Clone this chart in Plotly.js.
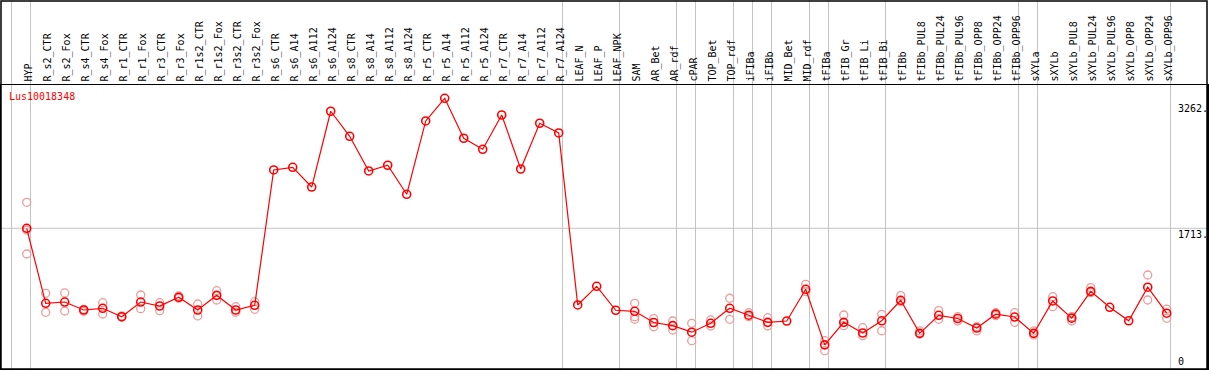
<!DOCTYPE html>
<html>
<head>
<meta charset="utf-8">
<script src="https://cdn.plot.ly/plotly-3.0.1.min.js"></script>
<style>html,body{margin:0;padding:0;background:#fff;}#chart{width:1209px;height:370px;}</style>
</head>
<body>
<div id="chart"></div>
<script>
var geneName = "Lus10018348";
var categories = ["HYP","R_s2_CTR","R_s2_Fox","R_s4_CTR","R_s4_Fox","R_r1_CTR","R_r1_Fox","R_r3_CTR","R_r3_Fox","R_r1s2_CTR","R_r1s2_Fox","R_r3s2_CTR","R_r3s2_Fox","R_s6_CTR","R_s6_A14","R_s6_A112","R_s6_A124","R_s8_CTR","R_s8_A14","R_s8_A112","R_s8_A124","R_r5_CTR","R_r5_A14","R_r5_A112","R_r5_A124","R_r7_CTR","R_r7_A14","R_r7_A112","R_r7_A124","LEAF_N","LEAF_P","LEAF_NPK","SAM","AR_Bet","AR_rdf","cPAR","TOP_Bet","TOP_rdf","iFIBa","iFIBb","MID_Bet","MID_rdf","tFIBa","tFIB_Gr","tFIB_Li","tFIB_Bi","tFIBb","tFIBb_PUL8","tFIBb_PUL24","tFIBb_PUL96","tFIBb_OPP8","tFIBb_OPP24","tFIBb_OPP96","sXYLa","sXYLb","sXYLb_PUL8","sXYLb_PUL24","sXYLb_PUL96","sXYLb_OPP8","sXYLb_OPP24","sXYLb_OPP96"];
var meanValues = [1713,793,809,711,732,629,809,760,867,711,891,711,769,2428,2461,2219,3148,2841,2416,2486,2130,3029,3307,2817,2682,3102,2440,3001,2882,773,1002,708,695,558,519,439,548,732,647,560,576,965,284,560,429,579,830,425,646,607,490,660,625,425,822,611,940,744,579,991,672];
var rep1 = [2032,916,920,720,801,638,895,801,883,785,948,752,813,null,null,null,null,null,null,null,null,null,null,null,null,null,null,null,null,null,null,null,793,605,576,548,589,855,678,617,null,1026,335,650,494,658,887,454,703,629,506,678,678,454,874,629,985,null,null,1140,723];
var rep2 = [1398,683,699,695,662,622,727,703,855,638,834,683,720,null,null,null,null,null,null,null,null,null,null,null,null,null,null,null,null,null,null,null,597,506,466,335,515,597,629,515,null,936,212,519,396,457,813,417,597,576,454,641,560,405,752,576,923,null,null,834,609];
var rep3 = [1692,null,null,null,null,null,null,null,null,null,null,null,null,null,null,null,null,null,null,null,null,null,null,null,null,null,null,null,null,null,null,null,629,null,null,null,null,null,null,null,null,null,null,null,null,null,null,null,null,null,null,null,null,null,null,null,null,null,null,null,null];
var groupEnds = [-1,0,28,31,34,35,37,38,39,41,42,45,52,53,60];
var yTickVals = [0,1713,3262];
var yTickText = ["0","1713.","3262."];

var xIdx = categories.map(function(c,i){return i;});
var mono = "DejaVu Sans Mono, monospace";
var repColor = "#ef9a9a";

function repTrace(vals){
  return {x:xIdx, y:vals, type:"scatter", mode:"markers", hoverinfo:"skip", showlegend:false,
    marker:{symbol:"circle-open", size:8, color:repColor, line:{width:1.3, color:repColor}}};
}
var traces = [repTrace(rep1), repTrace(rep2), repTrace(rep3),
  {x:xIdx, y:meanValues, type:"scatter", mode:"lines+markers", showlegend:false,
   line:{color:"#ff0000", width:1.2},
   marker:{symbol:"circle-open", size:8, color:"#ff0000", line:{width:1.6, color:"#ff0000"}}}];

var shapes = groupEnds.map(function(g){
  return {type:"line", xref:"x", yref:"paper", x0:g+0.2, x1:g+0.2, y0:0, y1:1.31, layer:"below",
    line:{color:"#c4c4c4", width:1}};
});
shapes.push({type:"line", xref:"paper", yref:"y", x0:0, x1:1, y0:yTickVals[1], y1:yTickVals[1], layer:"below",
  line:{color:"#c4c4c4", width:1}});
shapes.push({type:"rect", xref:"paper", yref:"paper", x0:0, x1:1, y0:0, y1:1.296,
  line:{color:"#000", width:1.5}, fillcolor:"rgba(0,0,0,0)"});

var annotations = yTickVals.map(function(v,i){
  return {xref:"paper", yref:"y", x:0.9755, y:v, xanchor:"left", yanchor: v===0 ? "bottom" : "top",
    text:yTickText[i], showarrow:false, font:{family:mono, size:10, color:"#000"}, borderpad:0};
});

var layout = {
  width:1209, height:370,
  margin:{l:1, r:2, t:85, b:1, pad:0},
  paper_bgcolor:"#fff", plot_bgcolor:"#fff",
  title:{text:geneName, font:{family:mono, size:10, color:"#ff0000"}, xref:"paper", x:0.0066, xanchor:"left",
    yref:"container", y:0.739, yanchor:"middle"},
  xaxis:{range:[-1.353,62.12], tickmode:"array", tickvals:xIdx, ticktext:categories, side:"top", tickangle:-90,
    ticklabelshift:2,
    showgrid:false, zeroline:false, showline:true, mirror:true, linecolor:"#000", linewidth:1.5, ticks:"",
    tickfont:{family:mono, size:10, color:"#000"}, fixedrange:true},
  yaxis:{range:[-12.3,3470], showticklabels:false, showgrid:false, zeroline:false, showline:true, mirror:true,
    linecolor:"#000", linewidth:1.5, ticks:"", fixedrange:true},
  shapes:shapes,
  annotations:annotations,
  hovermode:false
};
Plotly.newPlot("chart", traces, layout, {displayModeBar:false, staticPlot:true});
</script>
</body>
</html>
